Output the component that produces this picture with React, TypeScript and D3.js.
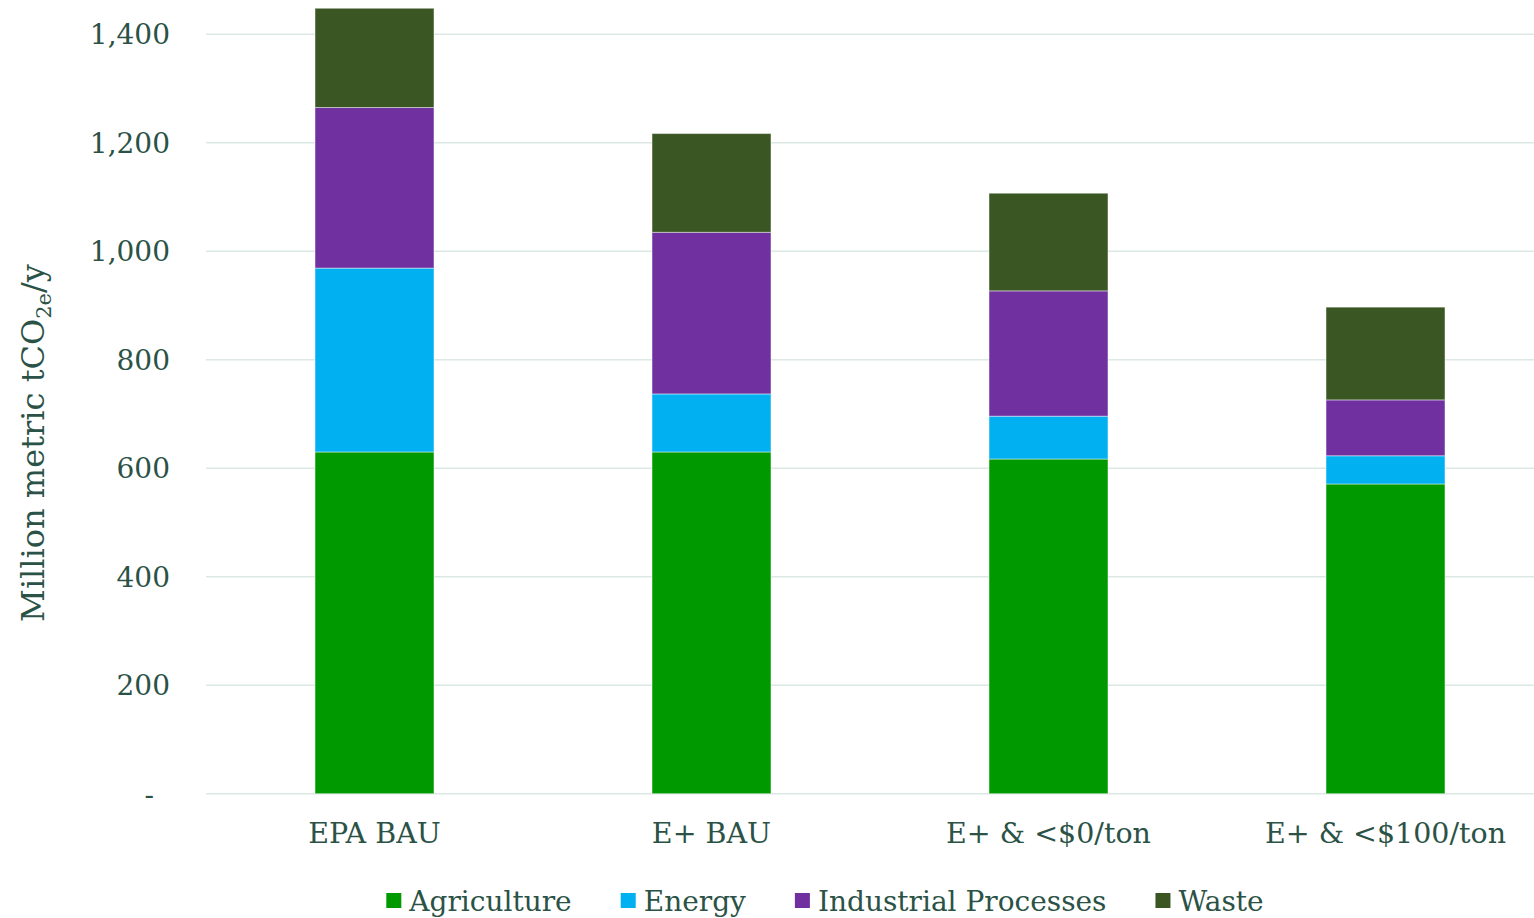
import React, { useEffect, useRef, useState } from "react";
import * as d3 from "d3";

const categories = ["EPA BAU", "E+ BAU", "E+ & <$0/ton", "E+ & <$100/ton"];
const seriesNames = ["Agriculture", "Energy", "Industrial Processes", "Waste"];
const agriculture = [630, 630, 617, 571];
const energy = [339, 107, 79, 52];
const industrial = [296, 298, 231, 103];
const waste = [183, 182, 180, 171];
const yTicks = [0, 200, 400, 600, 800, 1000, 1200, 1400];
const colors = ["#009900", "#00b0f0", "#7030a0", "#3a5622"];

const W = 1534;
const H = 918;
const TEXT = "#2b5246";
const FONT = "'DejaVu Serif', 'Liberation Serif', serif";

export default function App() {
  const legendRef = useRef<SVGGElement>(null);
  const [legendX, setLegendX] = useState<number[]>([390, 622, 793, 1150]);

  const x = d3.scaleBand<string>().domain(categories).range([206, 1554]).paddingInner(0).paddingOuter(0);
  const y = d3.scaleLinear().domain([0, 1400]).range([793.7, 34.3]);
  const barW = x.bandwidth() * 0.353;

  const rows = categories.map((c, i) => ({
    cat: c,
    Agriculture: agriculture[i],
    Energy: energy[i],
    "Industrial Processes": industrial[i],
    Waste: waste[i],
  }));
  const stacked = d3.stack<any>().keys(seriesNames)(rows);

  useEffect(() => {
    if (!legendRef.current) return;
    const texts = legendRef.current.querySelectorAll("text");
    const widths: number[] = [];
    texts.forEach((t) => widths.push((t as SVGTextElement).getComputedTextLength()));
    const sq = 15, gapText = 8, gapItem = 49;
    const total = widths.reduce((a, w) => a + sq + gapText + w, 0) + gapItem * (widths.length - 1);
    let cx = 825 - total / 2;
    const xs: number[] = [];
    widths.forEach((w) => {
      xs.push(cx);
      cx += sq + gapText + w + gapItem;
    });
    setLegendX(xs);
  }, []);

  const fmt = d3.format(",");

  return (
    <svg width={W} height={H} style={{ position: "absolute", left: 0, top: 0, background: "#fff" }} fontFamily={FONT}>
      {/* gridlines */}
      <g>
        {yTicks.map((t) => (
          <line key={t} x1={206} x2={W} y1={y(t)} y2={y(t)} stroke="#dbe8e4" strokeWidth={1.6} />
        ))}
      </g>
      {/* bars */}
      <g>
        {stacked.map((s, si) => (
          <g key={s.key} fill={colors[si]}>
            {s.map((d, i) => (
              <rect
                key={i}
                x={(x(categories[i]) as number) + (x.bandwidth() - barW) / 2}
                y={y(d[1])}
                width={barW}
                height={y(d[0]) - y(d[1])}
                stroke="#ffffff"
                strokeOpacity={0.45}
                strokeWidth={1}
              />
            ))}
          </g>
        ))}
      </g>
      {/* y tick labels */}
      <g fill={TEXT} fontSize={28}>
        {yTicks.map((t) => (
          <text key={t} x={t === 0 ? 154 : 170} y={y(t)} dy="0.35em" textAnchor="end">
            {t === 0 ? "-" : fmt(t)}
          </text>
        ))}
      </g>
      {/* x labels */}
      <g fill={TEXT} fontSize={28.5}>
        {categories.map((c) => (
          <text key={c} x={(x(c) as number) + x.bandwidth() / 2} y={843} textAnchor="middle">
            {c}
          </text>
        ))}
      </g>
      {/* y title */}
      <text
        transform={`translate(44, 443) rotate(-90)`}
        textAnchor="middle"
        fill={TEXT}
        fontSize={32}
      >
        Million metric tCO
        <tspan fontSize={21} dy={7}>2e</tspan>
        <tspan dy={-7}>/y</tspan>
      </text>
      {/* legend */}
      <g ref={legendRef} fill={TEXT} fontSize={28}>
        {seriesNames.map((n, i) => (
          <g key={n}>
            <rect x={legendX[i]} y={893} width={15} height={15} fill={colors[i]} />
            <text x={legendX[i] + 23} y={911}>{n}</text>
          </g>
        ))}
      </g>
    </svg>
  );
}
